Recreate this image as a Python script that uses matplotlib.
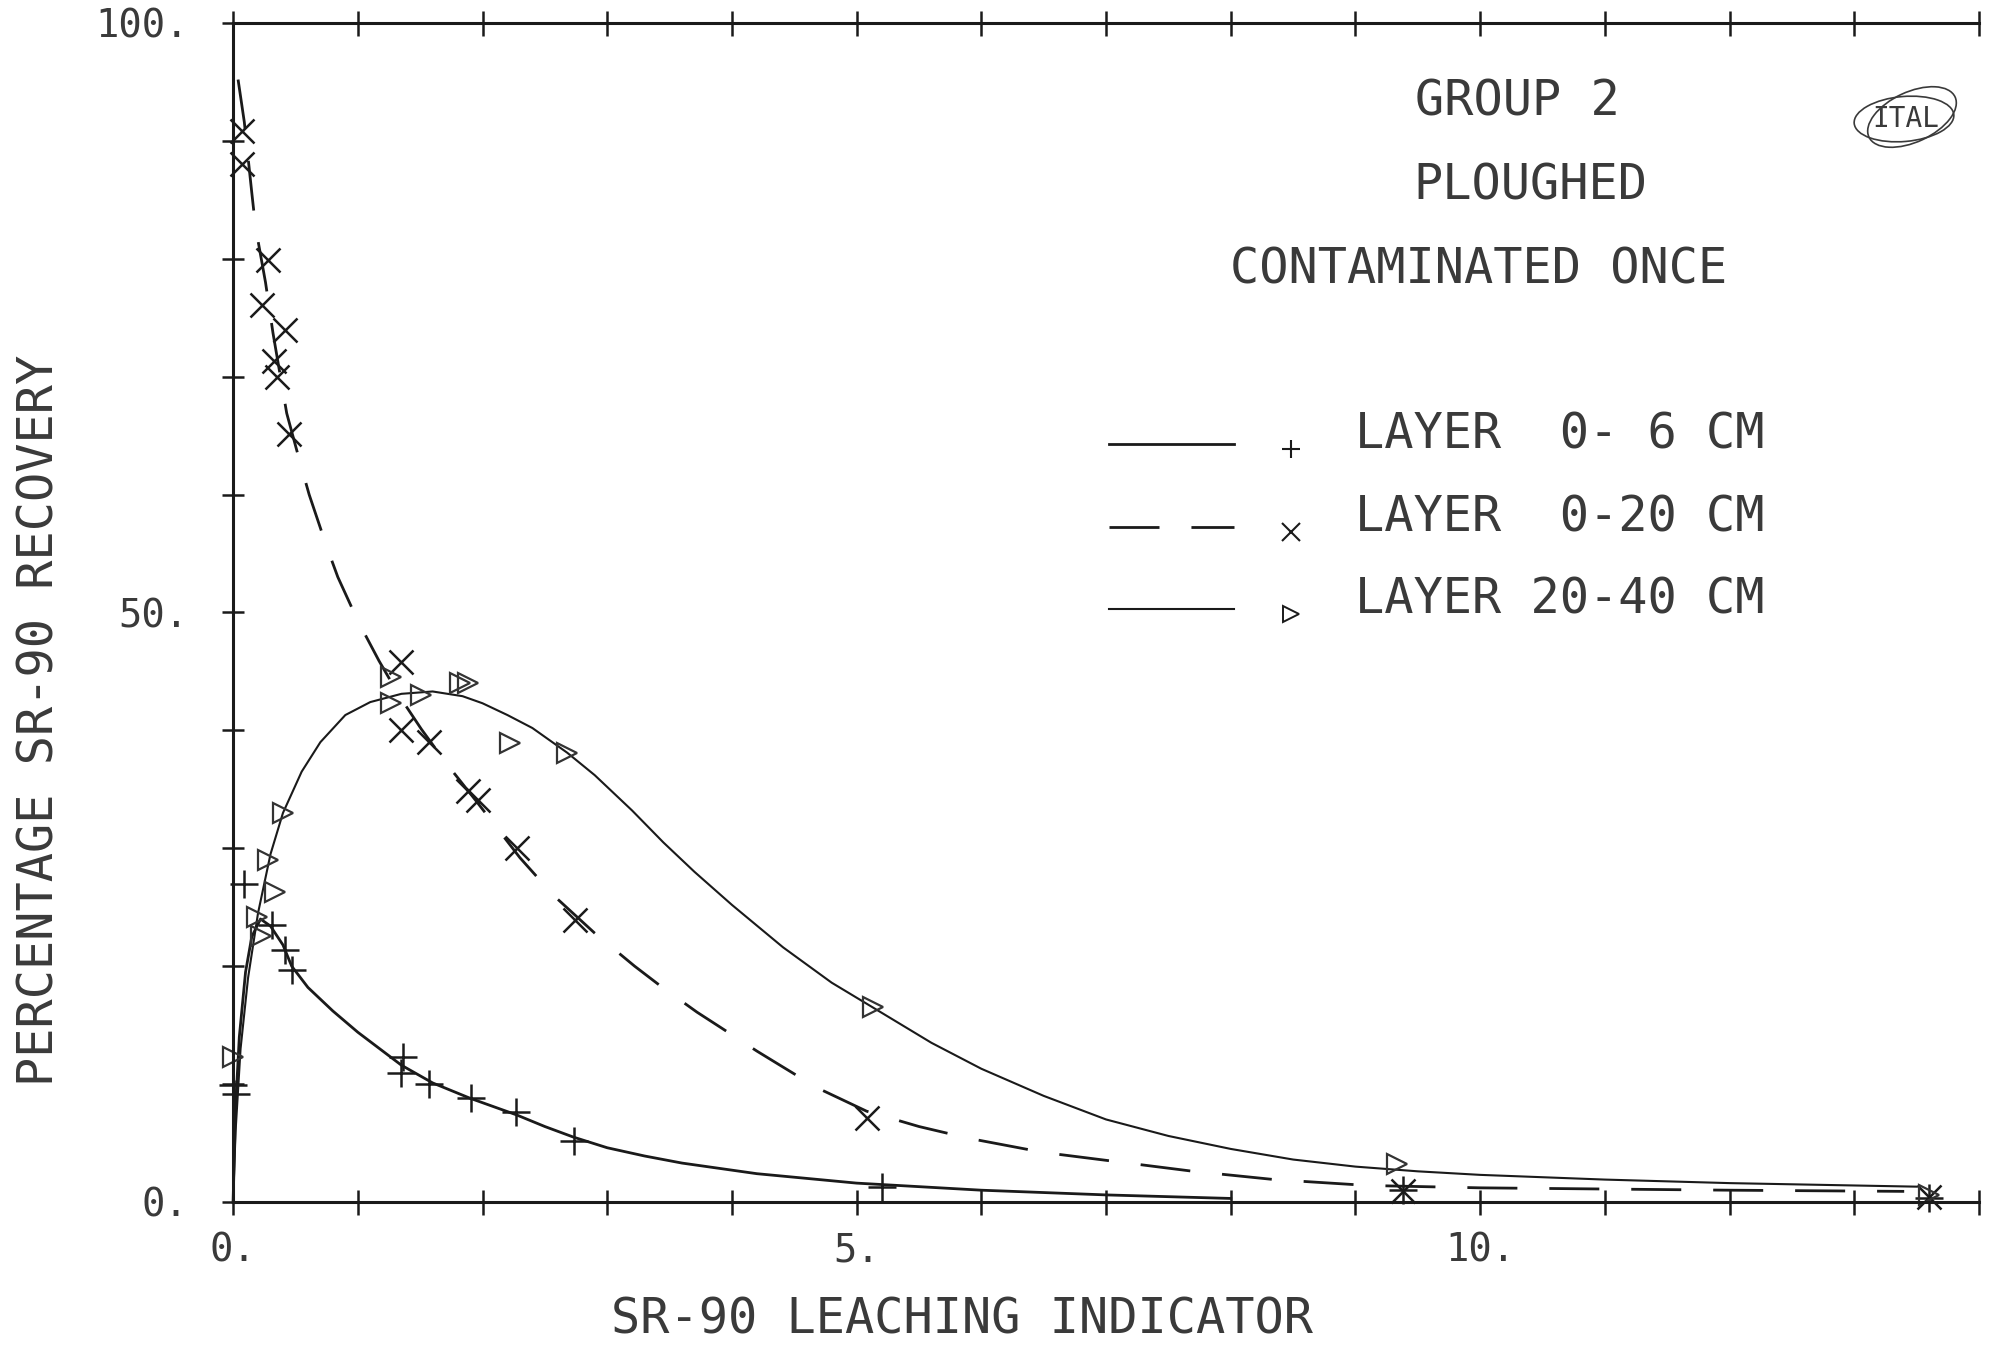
import matplotlib
matplotlib.use("Agg")
import matplotlib.pyplot as plt
from matplotlib.patches import Ellipse

# measured points, layer 0-6 cm (+)
x_06 = [0.0, 0.02, 0.09, 0.31, 0.42, 0.47, 1.36, 1.35, 1.57, 1.91, 2.27, 2.73, 5.2, 9.38, 13.6]
y_06 = [9.9, 9.2, 27.0, 23.5, 21.4, 19.7, 12.3, 10.9, 10.0, 8.8, 7.6, 5.2, 1.3, 1.0, 0.3]

# measured points, layer 0-20 cm (x)
x_020 = [0.07, 0.07, 0.28, 0.23, 0.42, 0.33, 0.35, 0.45, 1.35, 1.35, 1.57, 1.88, 1.96, 2.28, 2.74, 5.08, 9.38, 13.6]
y_020 = [90.8, 88.0, 79.9, 76.1, 74.0, 71.3, 70.0, 65.1, 45.8, 40.0, 39.0, 34.9, 34.1, 30.0, 23.9, 7.1, 0.9, 0.4]

# measured points, layer 20-40 cm (triangles)
x_2040 = [0.0, 0.19, 0.22, 0.28, 0.34, 0.40, 1.27, 1.27, 1.51, 1.82, 1.88, 2.22, 2.68, 5.13, 9.33, 13.6]
y_2040 = [12.3, 24.2, 22.6, 29.0, 26.3, 33.0, 44.5, 42.3, 43.0, 44.0, 44.0, 38.9, 38.1, 16.5, 3.2, 0.6]

# fitted curves as drawn on the plot
cx_06 = [0.0, 0.01, 0.02, 0.05, 0.1, 0.15, 0.22, 0.3, 0.4, 0.47, 0.6, 0.8, 1.0, 1.2, 1.35, 1.6,
         1.9, 2.27, 2.5, 2.73, 3.0, 3.3, 3.6, 4.2, 5.0, 6.0, 7.0, 8.0]
cy_06 = [0.0, 4.0, 8.0, 14.0, 19.5, 22.5, 24.0, 23.4, 21.8, 20.0, 18.2, 16.2, 14.4, 12.8, 11.6, 10.1,
         8.8, 7.4, 6.4, 5.5, 4.6, 3.9, 3.3, 2.4, 1.6, 1.0, 0.6, 0.3]

cx_020 = [0.04, 0.09, 0.15, 0.18, 0.26, 0.32, 0.43, 0.53, 0.61, 0.75, 0.84, 1.0, 1.17, 1.34,
          1.51, 1.71, 1.95, 2.3, 2.57, 2.9, 3.22, 3.43, 3.72, 3.91, 4.2, 4.37, 4.68, 5.08, 5.5,
          5.9, 6.5, 7.1, 7.7, 8.35, 9.1, 10.0, 11.0, 12.0, 13.4]
cy_020 = [95.2, 91.6, 85.6, 82.7, 78.0, 73.7, 66.9, 63.0, 60.0, 55.6, 53.0, 49.3, 45.9, 42.8,
          40.1, 37.2, 34.0, 29.2, 26.0, 22.8, 20.0, 18.3, 16.1, 14.8, 12.8, 11.7, 9.7, 7.7, 6.4,
          5.4, 4.2, 3.4, 2.6, 1.9, 1.4, 1.2, 1.1, 1.0, 0.9]

cx_2040 = [0.0, 0.01, 0.02, 0.06, 0.12, 0.2, 0.3, 0.4, 0.55, 0.7, 0.9, 1.1, 1.35, 1.6, 1.84, 2.0,
           2.2, 2.4, 2.68, 2.9, 3.2, 3.45, 3.7, 4.0, 4.41, 4.8, 5.13, 5.6, 6.0, 6.5, 7.0, 7.5,
           8.0, 8.5, 9.0, 9.5, 10.0, 11.0, 12.0, 13.5]
cy_2040 = [0.0, 3.0, 6.0, 13.0, 19.0, 24.5, 29.5, 33.0, 36.5, 39.0, 41.3, 42.4, 43.1, 43.3, 42.9, 42.3,
           41.3, 40.2, 38.1, 36.2, 33.2, 30.5, 28.0, 25.2, 21.6, 18.6, 16.5, 13.5, 11.3, 9.0, 7.0, 5.6,
           4.5, 3.6, 3.0, 2.6, 2.3, 1.9, 1.6, 1.3]

x_ticks = list(range(0, 15))
x_labels = {0: "0.", 5: "5.", 10: "10."}
y_ticks = list(range(0, 101, 10))
y_labels = {0: "0.", 50: "50.", 100: "100."}

legend_labels = ["LAYER  0- 6 CM", "LAYER  0-20 CM", "LAYER 20-40 CM"]
title_lines = ["GROUP 2", "PLOUGHED", "CONTAMINATED ONCE"]

FONT = "DejaVu Sans Mono"
INK = "#1a1a1a"
TXT = "#3a3a3a"
DASH = (18, 11.5)

fig = plt.figure(figsize=(19.99, 13.51), dpi=100)
ax = fig.add_axes([0.1166, 0.1103, 0.8734, 0.8727])

# curves
ax.plot(cx_06, cy_06, color=INK, lw=2.0, clip_on=False)
ax.plot(cx_020, cy_020, color=INK, lw=2.0, dashes=DASH, clip_on=False)
ax.plot(cx_2040, cy_2040, color=INK, lw=1.5, clip_on=False)

# measured points
ax.plot(x_06, y_06, ls="none", marker="+", ms=20, mew=1.8, color=INK, clip_on=False)
ax.plot(x_020, y_020, ls="none", marker="x", ms=17, mew=1.8, color=INK, clip_on=False)
ax.plot(x_2040, y_2040, ls="none", marker=">", ms=14, mew=1.6, mfc="none", mec="#333333", clip_on=False)

ax.set_xlim(0, 14)
ax.set_ylim(0, 100)
ax.spines["right"].set_visible(False)
for s in ["left", "bottom", "top"]:
    ax.spines[s].set_linewidth(2.2)
    ax.spines[s].set_color(INK)

ax.set_xticks(x_ticks)
ax.set_xticklabels([x_labels.get(t, "") for t in x_ticks])
ax.set_yticks(y_ticks)
ax.set_yticklabels([y_labels.get(t, "") for t in y_ticks])
ax.tick_params(axis="x", direction="inout", length=18, width=1.8, top=True, bottom=True,
               labeltop=False, pad=12, labelsize=28, labelcolor=TXT, color=INK)
ax.tick_params(axis="y", direction="inout", length=16, width=1.8, left=True, right=False,
               pad=24, labelsize=28, labelcolor=TXT, color=INK)
for lab in ax.get_xticklabels() + ax.get_yticklabels():
    lab.set_family(FONT)

# axis titles
fig.text(0.481, 0.023, "SR-90 LEACHING INDICATOR", family=FONT, fontsize=35,
         color=TXT, ha="center", va="center")
fig.text(0.020, 0.467, "PERCENTAGE SR-90 RECOVERY", family=FONT, fontsize=35,
         color=TXT, ha="center", va="center", rotation=90)

# title block
for (tx, ty), line in zip([(0.7354, 0.933), (0.743, 0.8618), (0.7136, 0.7913)], title_lines):
    ax.text(tx, ty, line, transform=ax.transAxes, family=FONT, fontsize=35,
            color=TXT, ha="center", va="center")

# legend, drawn by hand like the plotter did
row_y = [0.643, 0.5725, 0.503]
styles = [dict(lw=2.0), dict(lw=2.0, dashes=DASH), dict(lw=1.5)]
marks = [dict(marker="+", ms=13, mew=1.5), dict(marker="x", ms=13, mew=1.5),
         dict(marker=">", ms=11, mew=1.4, mfc="none")]
for yy, st, mk, lab in zip(row_y, styles, marks, legend_labels):
    ax.plot([0.5017, 0.5733], [yy, yy], transform=ax.transAxes, color=INK, clip_on=False, **st)
    ax.plot([0.606], [yy - 0.004], transform=ax.transAxes, ls="none", color=INK,
            clip_on=False, **mk)
    ax.text(0.6426, yy + 0.008, lab, transform=ax.transAxes, family=FONT, fontsize=35,
            color=TXT, ha="left", va="center")

# ITAL stamp
fig.text(19.06 / 19.99, 1 - 1.19 / 13.51, "ITAL", family=FONT, fontsize=20, color=TXT,
         ha="center", va="center")
fig.patches.append(Ellipse((19.04, 12.32), 1.0, 0.45, angle=5, fill=False, lw=1.2,
                           ec=TXT, transform=fig.dpi_scale_trans))
fig.patches.append(Ellipse((19.12, 12.34), 0.95, 0.5, angle=25, fill=False, lw=1.2,
                           ec=TXT, transform=fig.dpi_scale_trans))

fig.savefig("out.png", dpi=100, facecolor="white")
